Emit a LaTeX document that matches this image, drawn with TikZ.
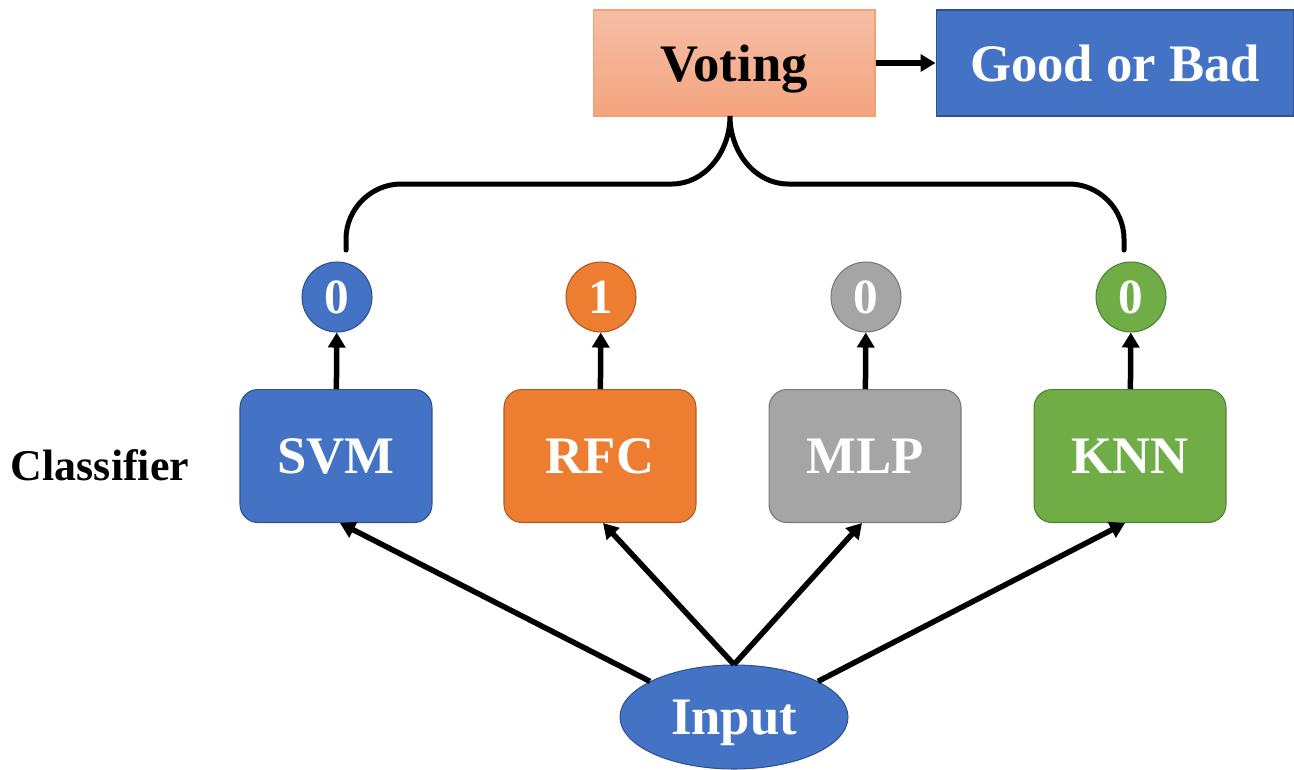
\documentclass[tikz,border=0pt]{standalone}
\usepackage{fontspec}
\setmainfont{Liberation Serif}
\usetikzlibrary{arrows.meta,shapes.geometric}
\definecolor{cblue}{HTML}{4472C4}
\definecolor{cbluedk}{HTML}{2F528F}
\definecolor{corange}{HTML}{ED7D31}
\definecolor{corangedk}{HTML}{AE5A21}
\definecolor{cgray}{HTML}{A5A5A5}
\definecolor{cgraydk}{HTML}{787878}
\definecolor{cgreen}{HTML}{70AD47}
\definecolor{cgreendk}{HTML}{507E32}
\definecolor{vtop}{HTML}{F5BEA5}
\definecolor{vbot}{HTML}{F4A47F}
\definecolor{vline}{HTML}{F4A070}
\begin{document}
\begin{tikzpicture}[x=0.02cm, y=-0.02cm,
    big/.style={font=\fontsize{30}{36}\selectfont\bfseries},
    clf/.style={big, draw=#1dk, fill=#1, text=white, rounded corners=0.36cm,
        minimum width=3.84cm, minimum height=2.66cm, line width=0.6pt},
    vote/.style={circle, draw=#1dk, fill=#1, text=white, minimum size=1.4cm,
        inner sep=0pt, line width=0.6pt, font=\fontsize{28}{32}\selectfont\bfseries},
    arr/.style={line width=0.11cm, -{Triangle[length=0.3cm,width=0.34cm]}},
    brace/.style={line width=0.1cm, line cap=round}]
  \useasboundingbox (0,0) rectangle (1294,769);

  % top row
  \node[big, draw=vline, top color=vtop, bottom color=vbot, minimum width=5.64cm,
      minimum height=2.12cm, text depth=0pt, line width=0.6pt] (voting) at (734,63) {Voting};
  \node[big, draw=cbluedk, fill=cblue, text=white, minimum width=7.16cm,
      minimum height=2.12cm, line width=0.6pt] (result) at (1115,63) {Good or Bad};
  \draw[arr] (voting) -- (result);

  % classifiers
  \node[font=\fontsize{25}{30}\selectfont\bfseries] (label) at (100,465) {Classifier};
  \node[clf=cblue]   (svm) at (336,456) {SVM};
  \node[clf=corange] (rfc) at (600,456) {RFC};
  \node[clf=cgray]   (mlp) at (865,456) {MLP};
  \node[clf=cgreen]  (knn) at (1130,456) {KNN};

  % votes
  \node[vote=cblue]   (v1) at (337,297) {0};
  \node[vote=corange] (v2) at (601,297) {1};
  \node[vote=cgray]   (v3) at (866,297) {0};
  \node[vote=cgreen]  (v4) at (1131,297) {0};
  \draw[arr] (svm) -- (v1);
  \draw[arr] (rfc) -- (v2);
  \draw[arr] (mlp) -- (v3);
  \draw[arr] (knn) -- (v4);

  % input
  \node[big, ellipse, draw=cbluedk, fill=cblue, text=white, minimum width=4.56cm,
      minimum height=2.08cm, inner sep=0pt, text depth=0pt, line width=0.6pt] (in) at (734,717) {Input};
  \draw[arr] (in.157) -- ([xshift=0.08cm]svm.south);
  \draw[arr] (in.north) -- ([xshift=0.06cm]rfc.south);
  \draw[arr] (in.north) -- ([xshift=-0.06cm]mlp.south);
  \draw[arr] (in.23) -- ([xshift=-0.1cm]knn.south);

  % brace
  \coordinate (lend) at (346,250);
  \coordinate (rend) at (1124,250);
  \coordinate (tip) at (730,116);
  \draw[brace] (lend) -- (346,239) .. controls (346,209) and (371,184) .. (401,184)
      -- (672,184) .. controls (704,184) and (730,153) .. (tip)
      .. controls (730,153) and (756,184) .. (788,184)
      -- (1069,184) .. controls (1099,184) and (1124,209) .. (1124,239) -- (rend);
\end{tikzpicture}
\end{document}
